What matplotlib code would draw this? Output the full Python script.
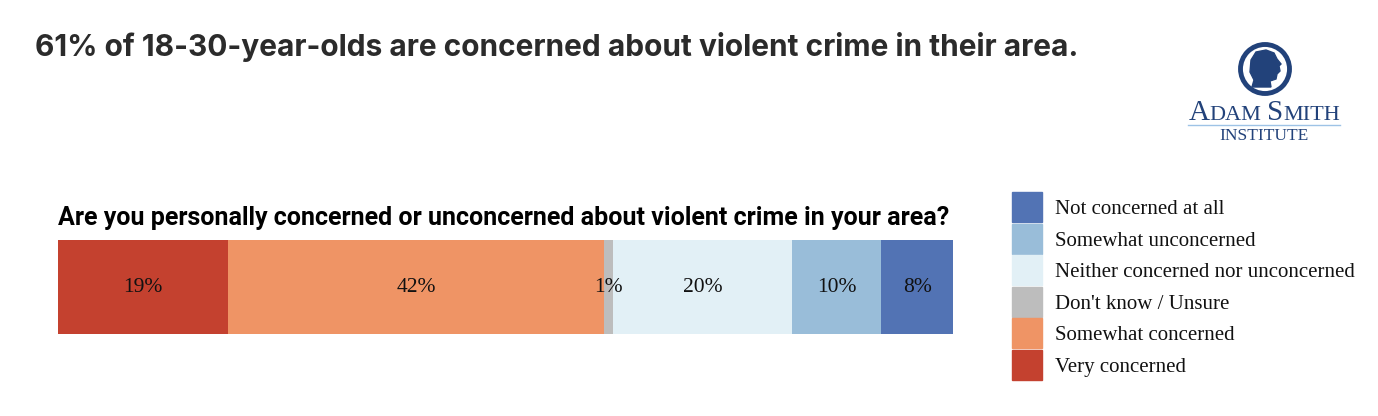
import matplotlib
matplotlib.use("Agg")
import matplotlib.pyplot as plt
from matplotlib.patches import Circle, Polygon, Rectangle

# data
categories = ["Very concerned", "Somewhat concerned", "Don't know / Unsure",
              "Neither concerned nor unconcerned", "Somewhat unconcerned", "Not concerned at all"]
values = [19, 42, 1, 20, 10, 8]
colors = ["#C4412F", "#EF9465", "#BDBDBD", "#E2F0F6", "#99BDD9", "#5273B4"]

title = "61% of 18-30-year-olds are concerned about violent crime in their area."
question = "Are you personally concerned or unconcerned about violent crime in your area?"

W, H = 1378, 416

fig = plt.figure(figsize=(W / 100, H / 100), dpi=100)
fig.patch.set_facecolor("white")

# title
fig.text(35 / W, 1 - 47 / H, title, fontsize=21.5, fontweight="bold",
         family="Inter", color="#2b2b2b", va="center", ha="left")

# question
fig.text(58 / W, 1 - 218 / H, question, fontsize=18, fontweight="bold",
         family="Roboto", color="black", va="center", ha="left")

# stacked bar
ax = fig.add_axes([58 / W, 1 - 334 / H, 895 / W, 94 / H])
left = 0
for v, c in zip(values, colors):
    ax.barh(0, v, left=left, color=c, height=1.0, edgecolor="none")
    ax.text(left + v / 2, 0, f"{v}%", ha="center", va="center",
            fontsize=15.5, family="Liberation Serif", color="#111111")
    left += v
ax.set_xlim(0, sum(values))
ax.set_ylim(-0.5, 0.5)
ax.axis("off")

# legend (top row is the last category)
lx, ly0, row = 1012, 192, 31.5
for i, (cat, c) in enumerate(zip(categories[::-1], colors[::-1])):
    y = ly0 + i * row
    fig.patches.append(Rectangle((lx / W, 1 - (y + row - 1.5) / H), 30 / W, (row - 1.5) / H,
                                 transform=fig.transFigure, color=c, figure=fig))
    fig.text(1055 / W, 1 - (y + row / 2 + 2) / H, cat, fontsize=15, family="Liberation Serif",
             color="#111111", va="center", ha="left")

# logo
navy = "#22427a"
lax = fig.add_axes([1180 / W, 1 - 150 / H, 170 / W, 115 / H])
lax.set_xlim(1180, 1350)
lax.set_ylim(150, 35)
lax.set_aspect("equal")
lax.axis("off")
lax.add_patch(Circle((1265, 69), 24.5, fill=False, lw=3.5, edgecolor=navy))
head = [(1251, 60), (1256, 52), (1266, 50), (1274, 53), (1277, 59), (1281, 64),
        (1279, 66), (1280, 71), (1277, 74), (1276, 79), (1270, 81), (1271, 87),
        (1252, 87), (1254, 80), (1250, 72)]
lax.add_patch(Polygon(head, closed=True, color=navy))

# small caps wordmark
r = fig.canvas.get_renderer()
pieces = [("A", 21), ("DAM", 16), (" ", 16), ("S", 21), ("MITH", 16)]
arts = []
for s, fs in pieces:
    t = lax.text(0, 120, s, fontsize=fs, family="Liberation Serif", color=navy,
                 ha="left", va="baseline")
    arts.append(t)
widths = [t.get_window_extent(r).width for t in arts]
total = sum(widths)
x = 1264 - total / 2
for t, w in zip(arts, widths):
    t.set_x(x)
    x += w
lax.plot([1188, 1340], [124.5, 124.5], color="#9ec3e6", lw=1)
lax.text(1264, 140, "INSTITUTE", ha="center", va="baseline", fontsize=12.5,
         family="Liberation Serif", color=navy)

fig.savefig("out.png", dpi=100)
